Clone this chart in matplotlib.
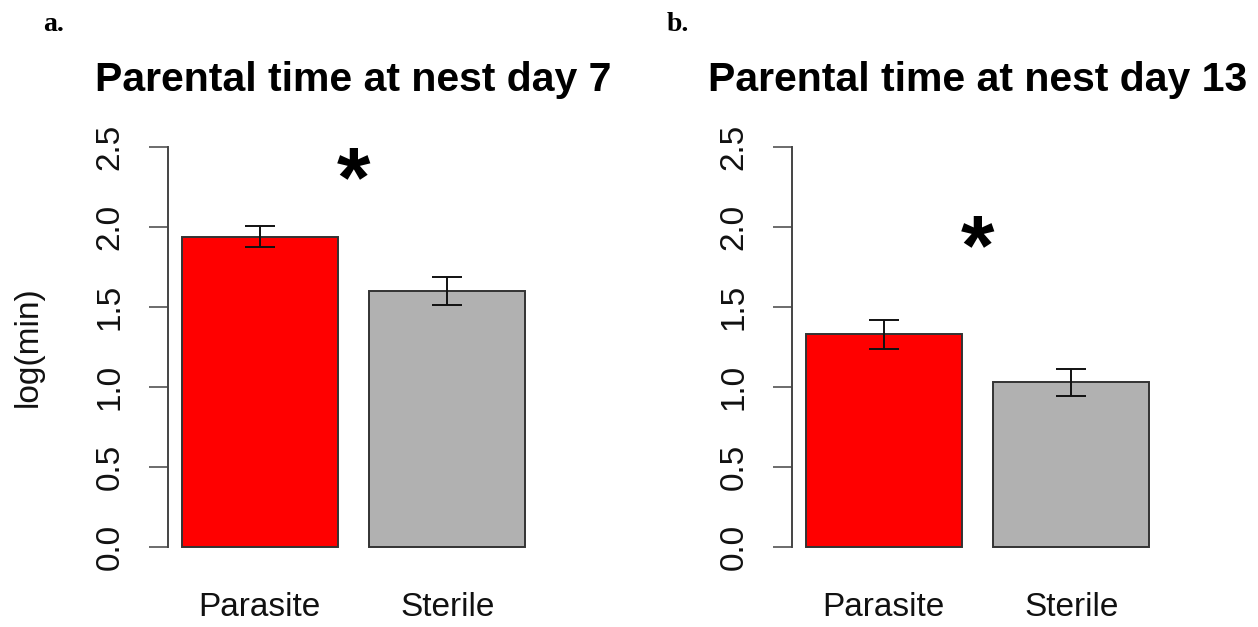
import matplotlib
matplotlib.use("Agg")
import matplotlib.pyplot as plt

plt.rcParams['font.family'] = ['Liberation Sans', 'DejaVu Sans']

# Group names and bar fills
groups = ["Parasite", "Sterile"]
bar_colors = ["#FF0000", "#B1B1B1"]

# Mean log(min) and standard errors per panel
day7_means = [1.94, 1.60]
day7_se = [0.065, 0.09]
day13_means = [1.33, 1.03]
day13_se = [0.09, 0.085]

panel_letters = ["a.", "b."]
panel_titles = ["Parental time at nest day 7", "Parental time at nest day 13"]
star_heights = [2.27, 1.84]

yticks = [0.0, 0.5, 1.0, 1.5, 2.0, 2.5]
ytick_labels = ["0.0", "0.5", "1.0", "1.5", "2.0", "2.5"]

W, H = 1258, 627
fig = plt.figure(figsize=(W / 100, H / 100), dpi=100)

centers = [0.7, 1.9]
ax_w = 371 / W
ax_h = 432 / H
ax_b = (H - 563) / H
lefts = [168 / W, 792 / W]

panels = [(day7_means, day7_se), (day13_means, day13_se)]

for i, (means, se) in enumerate(panels):
    ax = fig.add_axes([lefts[i], ax_b, ax_w, ax_h])
    ax.bar(centers, means, width=1.0, color=bar_colors,
           edgecolor="#333333", linewidth=1.4, zorder=2)
    ax.errorbar(centers, means, yerr=se, fmt="none", ecolor="#111111",
                elinewidth=1.4, capsize=10.5, capthick=1.4, zorder=3)
    ax.set_xlim(0.112, 2.488)
    ax.set_ylim(-0.1, 2.6)

    for s in ["top", "right", "bottom"]:
        ax.spines[s].set_visible(False)
    ax.spines["left"].set_bounds(0, 2.5)
    ax.spines["left"].set_color("#444444")
    ax.spines["left"].set_linewidth(1.4)

    ax.set_yticks(yticks)
    ax.set_yticklabels(ytick_labels, rotation=90, va="center")
    ax.tick_params(axis="y", length=13.7, width=1.1, color="#444444",
                   pad=17, labelsize=24, labelcolor="#111111")
    ax.set_xticks(centers)
    ax.set_xticklabels(groups)
    ax.tick_params(axis="x", length=0, pad=21, labelsize=24,
                   labelcolor="#111111")

    ax.set_title(panel_titles[i], fontsize=29.5, fontweight="bold", pad=29)
    ax.text(1.3, star_heights[i], "*", fontsize=62, fontweight="bold",
            ha="center", va="center")

    fig.text(lefts[i] - 125 / W, 1 - 12 / H, panel_letters[i],
             family="Liberation Serif", fontweight="bold", fontsize=20,
             ha="left", va="top")

    if i == 0:
        ax.set_ylabel("log(min)", fontsize=24, color="#111111")
        ax.yaxis.set_label_coords(-0.335, 0.5)

fig.savefig("out.png", dpi=100)
